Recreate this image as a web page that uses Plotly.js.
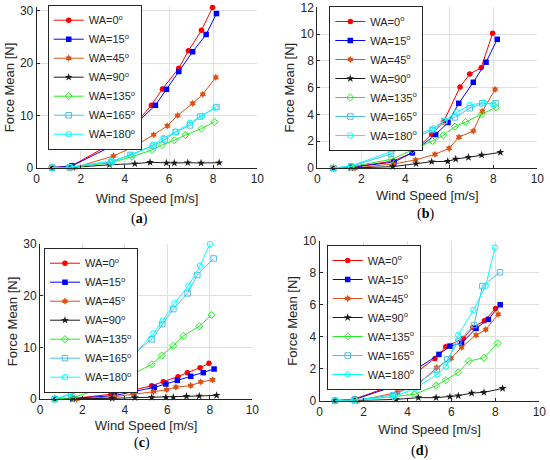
<!DOCTYPE html>
<html>
<head>
<meta charset="utf-8">
<script src="https://cdn.plot.ly/plotly-3.0.1.min.js"></script>
<style>html,body{margin:0;padding:0;background:#fff;}#chart{width:550px;height:460px;}</style>
</head>
<body>
<div id="chart"></div>
<script>
// Series labels
const seriesNames = ["WA=0<sup>o</sup>","WA=15<sup>o</sup>","WA=45<sup>o</sup>","WA=90<sup>o</sup>","WA=135<sup>o</sup>","WA=165<sup>o</sup>","WA=180<sup>o</sup>"];
const panelLabels = ["(<b>a</b>)","(<b>b</b>)","(<b>c</b>)","(<b>d</b>)"];
const xTitle = "Wind Speed [m/s]";
const yTitle = "Force Mean [N]";

// Panel (a)
const xA0 = [0.7,1.6,3.3,4.32,5.2,5.7,6.44,6.88,7.47,7.97];
const yA0 = [0,0.4,4.4,7.66,11.95,15.08,19.04,22.4,26.3,30.65];
const xA15 = [0.7,1.6,3.48,4.32,5.38,5.88,6.44,7.07,7.68,8.15];
const yA15 = [0,0.35,4.29,7.66,11.95,15.0,18.4,22.2,25.5,29.5];
const xA45 = [0.7,1.7,3.48,4.39,5.3,5.92,6.39,7.07,7.53,8.12];
const yA45 = [0,0,2.24,4.0,6.3,8.0,10.0,12.3,14.05,17.3];
const xA90 = [0.7,1.5,3.3,4.45,5.14,5.88,6.24,6.85,7.45,8.27];
const yA90 = [0,0,0.57,0.76,1.03,0.9,0.9,0.96,0.9,0.96];
const xA135 = [0.7,1.5,3.36,4.32,5.23,5.68,6.24,6.74,7.47,8.05];
const yA135 = [0,0.05,0.96,2.1,3.4,4.35,5.24,6.26,7.47,8.76];
const xA165 = [0.7,1.5,3.4,4.25,5.3,5.8,6.3,6.95,7.4,8.15];
const yA165 = [0,0.05,1.1,2.45,4.2,5.4,6.8,8.1,9.8,11.6];
const xA180 = [0.7,1.5,3.35,4.3,5.25,5.75,6.3,6.95,7.5,8.1];
const yA180 = [0,0.1,1.25,2.4,4.3,5.7,6.9,8.6,9.9,11.5];

// Panel (b)
const xB0 = [0.73,1.53,3.45,4.32,5.2,5.73,6.49,6.93,7.45,7.97];
const yB0 = [0,0.05,0.52,1.14,2.52,3.43,6.05,7.02,7.49,10.06];
const xB15 = [0.73,1.53,3.49,4.32,5.38,5.94,6.43,7.09,7.67,8.18];
const yB15 = [0,0.05,0.45,1.14,2.5,3.4,4.83,6.4,7.9,9.61];
const xB45 = [0.73,1.71,3.45,4.47,5.35,5.99,6.44,7.09,7.5,8.08];
const yB45 = [0,0,0.3,0.6,1.02,1.47,2.31,2.76,4.23,5.87];
const xB90 = [0.73,1.53,3.43,4.49,5.2,5.93,6.29,6.87,7.47,8.32];
const yB90 = [0,0,0.1,0.32,0.47,0.5,0.67,0.8,0.97,1.17];
const xB135 = [0.73,1.53,3.38,4.32,5.23,5.73,6.26,6.74,7.47,8.12];
const yB135 = [0,0.1,0.65,1.34,2.02,2.44,3.09,3.43,4.01,4.53];
const xB165 = [0.73,1.53,3.35,4.24,5.23,5.77,6.26,6.93,7.5,8.1];
const yB165 = [0,0.12,1.05,2.09,2.84,3.51,3.78,4.46,4.83,4.83];
const xB180 = [0.73,1.53,3.35,4.32,5.27,5.77,6.34,6.93,7.58,8.0];
const yB180 = [0,0.15,1.22,2.34,2.96,3.5,4.16,4.7,4.88,4.75];

// Panel (c)
const xC0 = [0.7,1.54,3.34,4.36,5.26,5.81,6.5,6.94,7.54,7.96];
const yC0 = [0,0.1,0.9,1.68,2.58,3.35,4.32,5.1,6.06,6.9];
const xC15 = [0.7,1.54,3.5,4.4,5.38,5.93,6.47,7.1,7.69,8.2];
const yC15 = [0,0.1,0.65,1.42,2.26,2.9,3.6,4.39,5.1,5.8];
const xC45 = [0.7,1.73,3.5,4.43,5.34,5.97,6.4,7.1,7.57,8.13];
const yC45 = [0,0,0.45,0.9,1.4,1.8,2.3,2.6,3.3,3.7];
const xC90 = [0.7,1.54,3.4,4.47,5.26,5.93,6.28,6.9,7.5,8.32];
const yC90 = [0,0,0.13,0.26,0.32,0.32,0.35,0.52,0.58,0.71];
const xC135 = [0.7,1.54,3.37,4.27,5.26,5.73,6.28,6.75,7.5,8.08];
const yC135 = [0,0.26,2.7,4.65,6.7,8.4,10.3,12.2,14.1,16.26];
const xC165 = [0.7,1.46,3.34,4.27,5.26,5.76,6.28,6.95,7.41,8.18];
const yC165 = [0,0.9,4.7,8.2,11.55,14.5,17.4,20.45,24.0,27.2];
const xC180 = [0.7,1.46,3.37,4.35,5.34,5.78,6.33,6.99,7.54,8.0];
const yC180 = [0,1.03,5.1,8.2,12.7,15.16,18.5,21.9,25.8,30.0];

// Panel (d)
const xD0 = [0.7,1.6,3.35,4.34,5.25,5.74,6.54,6.97,7.5,8.01];
const yD0 = [0,0.1,0.98,1.71,2.65,3.38,3.9,4.59,5.0,5.78];
const xD15 = [0.7,1.6,3.54,4.34,5.43,5.93,6.46,7.12,7.68,8.22];
const yD15 = [0,0.08,0.98,1.92,2.9,3.42,3.6,4.53,5.09,6.01];
const xD45 = [0.7,1.73,3.54,4.49,5.33,5.98,6.46,7.12,7.56,8.13];
const yD45 = [0,0,0.52,1.04,2.07,2.65,3.34,4.11,4.45,5.41];
const xD90 = [0.7,1.6,3.48,4.49,5.3,5.93,6.31,6.92,7.48,8.33];
const yD90 = [0,0,0.08,0.19,0.19,0.25,0.31,0.48,0.52,0.77];
const xD135 = [0.7,1.58,3.35,4.31,5.3,5.75,6.31,6.8,7.48,8.1];
const yD135 = [0,0.04,0.25,0.4,0.94,1.29,1.77,2.48,2.69,3.59];
const xD165 = [0.7,1.58,3.35,4.23,5.33,5.81,6.31,7.03,7.41,8.21];
const yD165 = [0,0.04,0.35,0.88,1.92,2.59,3.7,4.74,7.18,8.04];
const xD180 = [0.7,1.6,3.38,4.34,5.36,5.75,6.31,7.0,7.56,7.98];
const yD180 = [0,0.04,0.25,0.77,1.65,2.13,4.11,5.68,7.2,9.58];

const panelX = [[xA0,xA15,xA45,xA90,xA135,xA165,xA180],[xB0,xB15,xB45,xB90,xB135,xB165,xB180],[xC0,xC15,xC45,xC90,xC135,xC165,xC180],[xD0,xD15,xD45,xD90,xD135,xD165,xD180]];
const panelY = [[yA0,yA15,yA45,yA90,yA135,yA165,yA180],[yB0,yB15,yB45,yB90,yB135,yB165,yB180],[yC0,yC15,yC45,yC90,yC135,yC165,yC180],[yD0,yD15,yD45,yD90,yD135,yD165,yD180]];

// Styles
const colors = ["#ff0000","#0000ff","#d95319","#1a1a1a","#22ee22","#4dbeee","#00ffff"];
const symbols = ["circle","square","hexagram","star","diamond-open","square-open","circle-open"];
const markerSizes = [5.5,5.5,5.5,6,5.5,5.5,5.5];
const W = 550, H = 460;
// pixel boxes [left, right, top, bottom]
const boxes = [[36.7,257.3,7.3,167.7],[317.3,537.3,7.3,168],[40,252.3,244,399],[319.7,539.3,241,400.7]];
const yRanges = [[0,30.7],[0,12],[0,30],[0,10]];
const yDticks = [10,2,10,2];
const xStandoffs = [8,5,4,6];
const legendPos = [[47.7,4.7],[329.3,6],[44,247.7],[326.7,245]];
const labelPos = [[139,219],[425,214],[142,443],[419,451]];

const font = "Liberation Sans, Arial, sans-serif";
const ink = "#262626";
const traces = [];
const layout = {
  width: W, height: H,
  margin: {l:0, r:0, t:0, b:0},
  paper_bgcolor: "#fff", plot_bgcolor: "#fff",
  font: {family: font, color: ink, size: 12},
  annotations: []
};
for (let p = 0; p < 4; p++) {
  const sfx = p === 0 ? "" : String(p+1);
  const legKey = p === 0 ? "legend" : "legend" + (p+1);
  for (let s = 0; s < 7; s++) {
    const open = symbols[s].indexOf("open") >= 0;
    traces.push({
      type: "scatter", mode: "lines+markers",
      x: panelX[p][s], y: panelY[p][s],
      name: seriesNames[s],
      xaxis: "x" + sfx, yaxis: "y" + sfx,
      legend: legKey,
      cliponaxis: false,
      line: {color: colors[s], width: 1},
      marker: {color: colors[s], symbol: symbols[s], size: markerSizes[s],
               line: {color: colors[s], width: open ? 1 : 0}}
    });
  }
  const b = boxes[p];
  layout["xaxis" + sfx] = {
    domain: [b[0]/W, b[1]/W], anchor: "y" + sfx,
    range: [0,10], dtick: 2, tick0: 0,
    showgrid: true, gridcolor: "#e0e0e0", gridwidth: 1, zeroline: false,
    showline: true, linecolor: ink, linewidth: 1,
    ticks: "inside", ticklen: 3, tickcolor: ink,
    tickfont: {family: font, size: 12, color: ink},
    title: {text: xTitle, font: {family: font, size: 13, color: ink}, standoff: xStandoffs[p]}
  };
  layout["yaxis" + sfx] = {
    domain: [1 - b[3]/H, 1 - b[2]/H], anchor: "x" + sfx,
    range: yRanges[p], dtick: yDticks[p], tick0: 0,
    showgrid: true, gridcolor: "#e0e0e0", gridwidth: 1, zeroline: false,
    showline: true, linecolor: ink, linewidth: 1,
    ticks: "inside", ticklen: 3, tickcolor: ink,
    tickfont: {family: font, size: 12, color: ink},
    title: {text: yTitle, font: {family: font, size: 13, color: ink}, standoff: 2}
  };
  const lp = legendPos[p];
  layout[legKey] = {
    x: lp[0]/W, y: 1 - lp[1]/H, xanchor: "left", yanchor: "top",
    xref: "paper", yref: "paper",
    bgcolor: "#fff", bordercolor: ink, borderwidth: 1,
    font: {family: font, size: 11, color: ink},
    tracegroupgap: 0, itemwidth: 30
  };
  const lb = labelPos[p];
  layout.annotations.push({
    text: panelLabels[p], x: lb[0]/W, y: 1 - lb[1]/H, xref: "paper", yref: "paper",
    xanchor: "center", yanchor: "middle", showarrow: false,
    font: {family: "Liberation Serif, Times New Roman, serif", size: 14, color: "#000"}
  });
}
Plotly.newPlot("chart", traces, layout, {displayModeBar: false, staticPlot: true});
</script>
</body>
</html>
